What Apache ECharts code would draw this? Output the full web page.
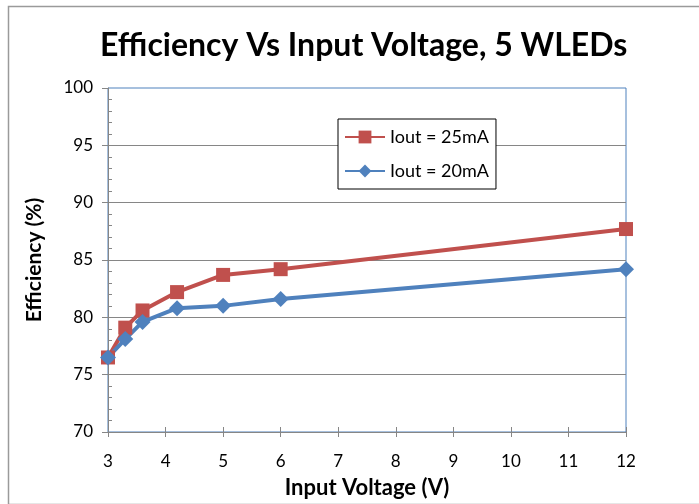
<!DOCTYPE html>
<html>
<head>
<meta charset="utf-8">
<script src="https://cdn.jsdelivr.net/npm/echarts@6/dist/echarts.min.js"></script>
<style>
html,body{margin:0;padding:0;background:#fff;}
#c{width:699px;height:504px;}
</style>
</head>
<body>
<div id="c"></div>
<script>
const voltages = [3, 3.3, 3.6, 4.2, 5, 6, 12];
const eff25 = [76.5, 79.1, 80.6, 82.2, 83.7, 84.2, 87.7];
const eff20 = [76.5, 78.1, 79.6, 80.8, 81.0, 81.6, 84.2];
const seriesNames = ['Iout = 25mA', 'Iout = 20mA'];
const titleText = 'Efficiency Vs Input Voltage, 5 WLEDs';
const xName = 'Input Voltage (V)';
const yName = 'Efficiency (%)';

const FONT = 'Lato';
const chart = echarts.init(document.getElementById('c'), null, {renderer: 'canvas'});
const pair = (xs, ys) => xs.map((x, i) => [x, ys[i]]);

chart.setOption({
  backgroundColor: '#fff',
  animation: false,
  graphic: [{
    type: 'rect', left: 6, top: 4, z: -10,
    shape: {x: 0, y: 0, width: 700, height: 498},
    style: {fill: 'none', stroke: '#9a9a9a', lineWidth: 1.5}
  }],
  title: {
    text: titleText, left: 95, top: 25,
    textStyle: {fontFamily: FONT, fontWeight: 'bold', fontSize: 32, color: '#000'}
  },
  legend: {
    orient: 'vertical', left: 338, top: 119,
    data: seriesNames,
    backgroundColor: '#fff', borderColor: '#000', borderWidth: 1,
    padding: [9, 7, 9, 6], itemGap: 16, itemWidth: 40, itemHeight: 16,
    textStyle: {fontFamily: FONT, fontSize: 18, color: '#000'}
  },
  grid: {
    left: 108, right: 73, top: 88, bottom: 72,
    show: true, borderColor: '#4F81BD', borderWidth: 1, backgroundColor: 'transparent'
  },
  xAxis: [{
    type: 'value', min: 3, max: 12, interval: 1,
    name: xName, nameLocation: 'middle', nameGap: 45,
    nameTextStyle: {fontFamily: FONT, fontWeight: 'bold', fontSize: 22, color: '#000'},
    axisLine: {show: true, lineStyle: {color: '#868686', width: 1}},
    axisTick: {show: true, length: 5, lineStyle: {color: '#868686'}},
    axisLabel: {fontFamily: FONT, fontSize: 17, color: '#000', margin: 21},
    splitLine: {show: false}
  }, {
    type: 'value', min: 3, max: 12, interval: 1, position: 'bottom',
    axisLine: {show: false},
    axisTick: {show: true, inside: true, length: 5, lineStyle: {color: '#868686'}},
    axisLabel: {show: false},
    splitLine: {show: false}
  }],
  yAxis: [{
    type: 'value', min: 70, max: 100, interval: 5,
    name: yName, nameLocation: 'middle', nameGap: 63, nameRotate: 90,
    nameTextStyle: {fontFamily: FONT, fontWeight: 'bold', fontSize: 21, color: '#000'},
    axisLine: {show: true, lineStyle: {color: '#868686', width: 1}},
    axisTick: {show: true, length: 6, lineStyle: {color: '#868686'}},
    axisLabel: {fontFamily: FONT, fontSize: 17, color: '#000', margin: 15},
    splitLine: {show: true, showMinLine: false, showMaxLine: false, lineStyle: {color: '#868686', width: 1}}
  }, {
    type: 'value', min: 70, max: 100, interval: 5, position: 'left',
    axisLine: {show: false},
    axisTick: {show: false, inside: true},
    minorTick: {show: true, splitNumber: 5, length: 4, lineStyle: {color: '#868686'}},
    axisLabel: {show: false},
    splitLine: {show: false}
  }],
  series: [{
    name: seriesNames[0], type: 'line', data: pair(voltages, eff25),
    xAxisIndex: 0, yAxisIndex: 0,
    symbol: 'rect', symbolSize: 14,
    lineStyle: {color: '#C0504D', width: 4},
    itemStyle: {color: '#C0504D'}
  }, {
    name: seriesNames[1], type: 'line', data: pair(voltages, eff20),
    xAxisIndex: 0, yAxisIndex: 0,
    symbol: 'diamond', symbolSize: 16,
    lineStyle: {color: '#4F81BD', width: 4},
    itemStyle: {color: '#4F81BD'}
  }]
});
</script>
</body>
</html>
